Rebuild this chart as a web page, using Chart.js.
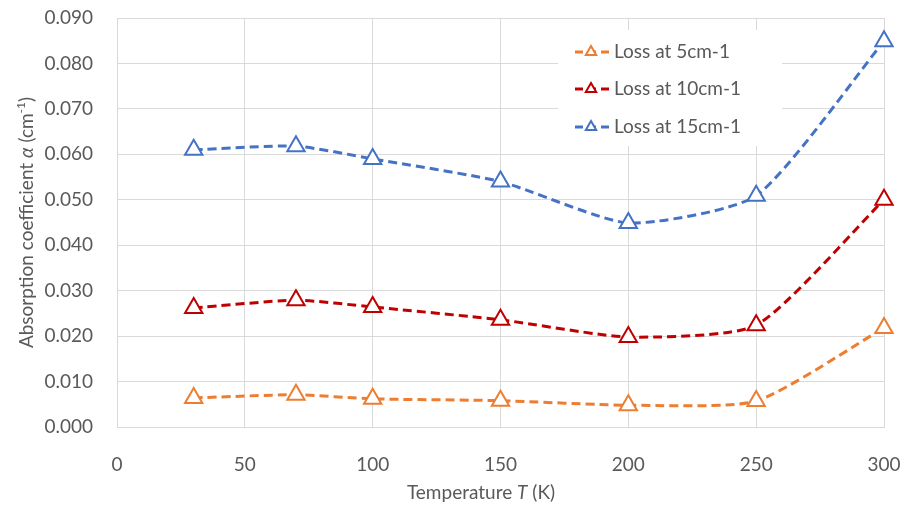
<!DOCTYPE html>
<html>
<head>
<meta charset="utf-8">
<script src="https://cdn.jsdelivr.net/npm/chart.js@4.4.1/dist/chart.umd.min.js"></script>
<style>
  html, body { margin: 0; padding: 0; background: #fff; }
  #wrap { width: 905px; height: 506px; }
</style>
</head>
<body>
<div id="wrap"><canvas id="chart" width="905" height="506"></canvas></div>
<script>
const temperatures = [30, 70, 100, 150, 200, 250, 300];
const loss5 = [0.0064, 0.0071, 0.0062, 0.0058, 0.0048, 0.0057, 0.0218];
const loss10 = [0.0262, 0.0279, 0.0264, 0.0236, 0.0198, 0.0224, 0.0500];
const loss15 = [0.0610, 0.0618, 0.0590, 0.0540, 0.0449, 0.0509, 0.0849];
const seriesLabels = ['Loss at 5cm-1', 'Loss at 10cm-1', 'Loss at 15cm-1'];
const seriesColors = ['#ED7D31', '#C00000', '#4472C4'];

const FONT = 'Lato, "Open Sans", sans-serif';
const TEXT = '#595959';
const GRID = '#d9d9d9';

function toPoints(values) {
  return temperatures.map((t, i) => ({ x: t, y: values[i] }));
}

function series(label, values, color) {
  return {
    label,
    data: toPoints(values),
    clip: false,
    borderColor: color,
    backgroundColor: '#ffffff',
    borderWidth: 3,
    borderDash: [9, 5],
    tension: 0.2,
    pointStyle: 'triangle',
    pointRadius: 10,
    pointHoverRadius: 10,
    pointBorderWidth: 2,
    pointBackgroundColor: '#ffffff',
    pointBorderColor: color,
  };
}

// axis titles with italic symbols, and the boxed legend inside the plot
const decorations = {
  id: 'decorations',
  afterDraw(chart) {
    const ctx = chart.ctx;
    const area = chart.chartArea;

    ctx.save();
    ctx.fillStyle = TEXT;
    ctx.textBaseline = 'middle';
    ctx.textAlign = 'left';

    // x title: Temperature T (K)
    const xParts = [
      ['Temperature ', 'normal'],
      ['T', 'italic'],
      [' (K)', 'normal'],
    ];
    let total = 0;
    xParts.forEach(([s, st]) => {
      ctx.font = st + ' 19px ' + FONT;
      total += ctx.measureText(s).width;
    });
    let x = 481 - total / 2;
    xParts.forEach(([s, st]) => {
      ctx.font = st + ' 19px ' + FONT;
      ctx.fillText(s, x, 493);
      x += ctx.measureText(s).width;
    });

    // y title: Absorption coefficient α (cm-1), rotated
    ctx.translate(27, (area.top + area.bottom) / 2);
    ctx.rotate(-Math.PI / 2);
    const yParts = [
      ['Absorption coefficient ', 'normal', 19, 0],
      ['α', 'italic', 19, 0],
      [' (cm', 'normal', 19, 0],
      ['-1', 'normal', 12, -6],
      [')', 'normal', 19, 0],
    ];
    total = 0;
    yParts.forEach(([s, st, sz]) => {
      ctx.font = st + ' ' + sz + 'px ' + FONT;
      total += ctx.measureText(s).width;
    });
    x = -total / 2;
    yParts.forEach(([s, st, sz, dy]) => {
      ctx.font = st + ' ' + sz + 'px ' + FONT;
      ctx.fillText(s, x, dy);
      x += ctx.measureText(s).width;
    });
    ctx.restore();

    // legend
    ctx.save();
    ctx.fillStyle = '#ffffff';
    ctx.fillRect(558, 30, 224, 116);
    const rows = [52, 89, 127];
    chart.data.datasets.forEach((ds, i) => {
      const y = rows[i];
      ctx.strokeStyle = ds.borderColor;
      ctx.lineWidth = 3;
      ctx.setLineDash([8, 5]);
      ctx.beginPath();
      ctx.moveTo(575, y);
      ctx.lineTo(609, y);
      ctx.stroke();
      ctx.setLineDash([]);
      ctx.fillStyle = '#ffffff';
      ctx.lineWidth = 2;
      ctx.beginPath();
      ctx.moveTo(591, y - 6);
      ctx.lineTo(591 + 5.2, y + 3);
      ctx.lineTo(591 - 5.2, y + 3);
      ctx.closePath();
      ctx.fill();
      ctx.stroke();
      ctx.fillStyle = TEXT;
      ctx.font = '19px ' + FONT;
      ctx.textBaseline = 'middle';
      ctx.textAlign = 'left';
      ctx.fillText(ds.label, 614, y);
    });
    ctx.restore();
  },
};

new Chart(document.getElementById('chart'), {
  type: 'line',
  data: {
    datasets: [
      series(seriesLabels[0], loss5, seriesColors[0]),
      series(seriesLabels[1], loss10, seriesColors[1]),
      series(seriesLabels[2], loss15, seriesColors[2]),
    ],
  },
  plugins: [decorations],
  options: {
    responsive: false,
    animation: false,
    layout: { padding: { top: 18, right: 21, bottom: 0, left: 0 } },
    plugins: {
      legend: { display: false },
      tooltip: { enabled: false },
    },
    scales: {
      x: {
        type: 'linear',
        min: 0,
        max: 300,
        afterFit(scale) {
          scale.height = 79;
          scale.paddingLeft = 0;
          scale.paddingRight = 0;
        },
        grid: { color: GRID, lineWidth: 1, drawTicks: false },
        border: { color: GRID },
        ticks: {
          stepSize: 50,
          padding: 26,
          color: TEXT,
          font: { family: FONT, size: 19 },
        },
      },
      y: {
        type: 'linear',
        min: 0,
        max: 0.09,
        afterFit(scale) {
          scale.width = 117;
          scale.paddingTop = 0;
          scale.paddingBottom = 0;
        },
        grid: { color: GRID, lineWidth: 1, drawTicks: false },
        border: { color: GRID },
        ticks: {
          stepSize: 0.01,
          padding: 24,
          color: TEXT,
          font: { family: FONT, size: 19 },
          callback: (v) => v.toFixed(3),
        },
      },
    },
  },
});
</script>
</body>
</html>
